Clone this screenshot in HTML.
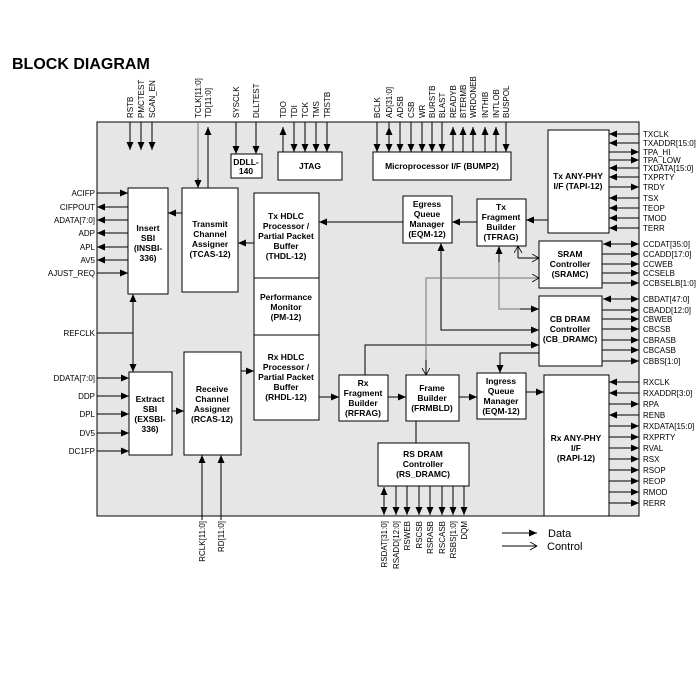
<!DOCTYPE html>
<html><head><meta charset="utf-8"><style>
html,body{margin:0;padding:0;background:#fff}
svg{display:block}
text{font-family:"Liberation Sans",sans-serif}
.l{font-size:8px}
.b{font-size:8.5px;font-weight:bold;text-anchor:middle}
</style></head><body>
<svg width="700" height="700" viewBox="0 0 700 700" xmlns="http://www.w3.org/2000/svg">
<defs>
<marker id="a" markerUnits="userSpaceOnUse" markerWidth="9" markerHeight="8" refX="8" refY="3.5" orient="auto-start-reverse"><path d="M0,0 L8,3.5 L0,7z" fill="#000"/></marker>
<marker id="o" markerUnits="userSpaceOnUse" markerWidth="9" markerHeight="9" refX="7" refY="4" orient="auto"><path d="M0,0 L7,4 L0,8" fill="none" stroke="#000" stroke-width="0.8"/></marker>
</defs>
<text x="12" y="69" style="font-size:16px;font-weight:bold">BLOCK DIAGRAM</text>
<rect x="97" y="122" width="542" height="394" fill="#e6e6e6" stroke="#000" stroke-width="1"/>
<g stroke="#000" stroke-width="1" fill="#fff">
<rect x="128" y="188" width="40" height="106"/>
<rect x="182" y="188" width="56" height="104"/>
<rect x="254" y="193" width="65" height="85"/>
<rect x="254" y="278" width="65" height="57"/>
<rect x="254" y="335" width="65" height="85"/>
<rect x="129" y="372" width="43" height="83"/>
<rect x="184" y="352" width="57" height="103"/>
<rect x="231" y="154" width="31" height="24"/>
<rect x="278" y="152" width="64" height="28"/>
<rect x="373" y="152" width="138" height="28"/>
<rect x="403" y="196" width="49" height="47"/>
<rect x="477" y="199" width="49" height="47"/>
<rect x="548" y="130" width="61" height="103"/>
<rect x="539" y="241" width="63" height="47"/>
<rect x="539" y="296" width="63" height="70"/>
<rect x="544" y="375" width="65" height="141"/>
<rect x="339" y="375" width="49" height="46"/>
<rect x="406" y="375" width="53" height="46"/>
<rect x="477" y="373" width="49" height="46"/>
<rect x="378" y="443" width="91" height="43"/>
</g>
<g>
<text class="b" x="148" y="231">Insert</text><text class="b" x="148" y="241">SBI</text><text class="b" x="148" y="251">(INSBI-</text><text class="b" x="148" y="261">336)</text>
<text class="b" x="210" y="227">Transmit</text><text class="b" x="210" y="237">Channel</text><text class="b" x="210" y="247">Assigner</text><text class="b" x="210" y="257">(TCAS-12)</text>
<text class="b" x="286" y="219">Tx HDLC</text><text class="b" x="286" y="229">Processor /</text><text class="b" x="286" y="239">Partial Packet</text><text class="b" x="286" y="249">Buffer</text><text class="b" x="286" y="259">(THDL-12)</text>
<text class="b" x="286" y="300">Performance</text><text class="b" x="286" y="310">Monitor</text><text class="b" x="286" y="320">(PM-12)</text>
<text class="b" x="286" y="360">Rx HDLC</text><text class="b" x="286" y="370">Processor /</text><text class="b" x="286" y="380">Partial Packet</text><text class="b" x="286" y="390">Buffer</text><text class="b" x="286" y="400">(RHDL-12)</text>
<text class="b" x="150" y="402">Extract</text><text class="b" x="150" y="412">SBI</text><text class="b" x="150" y="422">(EXSBI-</text><text class="b" x="150" y="432">336)</text>
<text class="b" x="212" y="392">Receive</text><text class="b" x="212" y="402">Channel</text><text class="b" x="212" y="412">Assigner</text><text class="b" x="212" y="422">(RCAS-12)</text>
<text class="b" x="246" y="165">DDLL-</text><text class="b" x="246" y="174">140</text>
<text class="b" x="310" y="169">JTAG</text>
<text class="b" x="442" y="169">Microprocessor I/F (BUMP2)</text>
<text class="b" x="427" y="207">Egress</text><text class="b" x="427" y="217">Queue</text><text class="b" x="427" y="227">Manager</text><text class="b" x="427" y="237">(EQM-12)</text>
<text class="b" x="501" y="210">Tx</text><text class="b" x="501" y="220">Fragment</text><text class="b" x="501" y="230">Builder</text><text class="b" x="501" y="240">(TFRAG)</text>
<text class="b" x="578" y="179">Tx ANY-PHY</text><text class="b" x="578" y="189">I/F (TAPI-12)</text>
<text class="b" x="570" y="257">SRAM</text><text class="b" x="570" y="267">Controller</text><text class="b" x="570" y="277">(SRAMC)</text>
<text class="b" x="570" y="322">CB DRAM</text><text class="b" x="570" y="332">Controller</text><text class="b" x="570" y="342">(CB_DRAMC)</text>
<text class="b" x="576" y="441">Rx ANY-PHY</text><text class="b" x="576" y="451">I/F</text><text class="b" x="576" y="461">(RAPI-12)</text>
<text class="b" x="363" y="386">Rx</text><text class="b" x="363" y="396">Fragment</text><text class="b" x="363" y="406">Builder</text><text class="b" x="363" y="416">(RFRAG)</text>
<text class="b" x="432" y="391">Frame</text><text class="b" x="432" y="401">Builder</text><text class="b" x="432" y="411">(FRMBLD)</text>
<text class="b" x="501" y="384">Ingress</text><text class="b" x="501" y="394">Queue</text><text class="b" x="501" y="404">Manager</text><text class="b" x="501" y="414">(EQM-12)</text>
<text class="b" x="423" y="457">RS DRAM</text><text class="b" x="423" y="467">Controller</text><text class="b" x="423" y="477">(RS_DRAMC)</text>
</g>
<g stroke="#000" stroke-width="1" fill="none">
<!-- left pins -->
<line x1="97" y1="193" x2="128" y2="193" marker-end="url(#a)"/>
<line x1="128" y1="207" x2="97" y2="207" marker-end="url(#a)"/>
<line x1="128" y1="220" x2="97" y2="220" marker-end="url(#a)"/>
<line x1="128" y1="233" x2="97" y2="233" marker-end="url(#a)"/>
<line x1="128" y1="247" x2="97" y2="247" marker-end="url(#a)"/>
<line x1="128" y1="260" x2="97" y2="260" marker-end="url(#a)"/>
<line x1="97" y1="273" x2="128" y2="273" marker-end="url(#a)"/>
<line x1="97" y1="333" x2="133" y2="333"/>
<line x1="133" y1="333" x2="133" y2="294" marker-end="url(#a)"/>
<line x1="133" y1="333" x2="133" y2="372" marker-end="url(#a)"/>
<line x1="97" y1="378" x2="129" y2="378" marker-end="url(#a)"/>
<line x1="97" y1="396" x2="129" y2="396" marker-end="url(#a)"/>
<line x1="97" y1="414" x2="129" y2="414" marker-end="url(#a)"/>
<line x1="97" y1="433" x2="129" y2="433" marker-end="url(#a)"/>
<line x1="97" y1="451" x2="129" y2="451" marker-end="url(#a)"/>
<!-- internal -->
<line x1="182" y1="213" x2="168" y2="213" marker-end="url(#a)"/>
<line x1="254" y1="243" x2="238" y2="243" marker-end="url(#a)"/>
<line x1="172" y1="411" x2="184" y2="411" marker-end="url(#a)"/>
<line x1="241" y1="371" x2="254" y2="371" marker-end="url(#a)"/>
<line x1="319" y1="397" x2="339" y2="397" marker-end="url(#a)"/>
<line x1="388" y1="397" x2="406" y2="397" marker-end="url(#a)"/>
<line x1="459" y1="397" x2="477" y2="397" marker-end="url(#a)"/>
<line x1="526" y1="392" x2="544" y2="392" marker-end="url(#a)"/>
<line x1="403" y1="222" x2="319" y2="222" marker-end="url(#a)"/>
<line x1="477" y1="222" x2="452" y2="222" marker-end="url(#a)"/>
<line x1="548" y1="220" x2="526" y2="220" marker-end="url(#a)"/>
<polyline points="441,243 441,330 539,330" />
<line x1="441" y1="260" x2="441" y2="243" marker-end="url(#a)"/>
<line x1="520" y1="330" x2="539" y2="330" marker-end="url(#a)"/>
<polyline points="365,375 365,345 539,345"/>
<line x1="520" y1="345" x2="539" y2="345" marker-end="url(#a)"/>
<polyline points="539,353 500,353 500,373" marker-end="url(#a)"/>
<polyline points="499,246 499,309 539,309" stroke="#777"/>
<line x1="499" y1="262" x2="499" y2="246" marker-end="url(#a)"/>
<line x1="520" y1="309" x2="539" y2="309" marker-end="url(#a)"/>
<polyline points="518,258 518,246" marker-end="url(#o)"/>
<polyline points="518,258 539,258" marker-end="url(#o)"/>
<polyline points="426,368 426,278 539,278" stroke="#777" marker-end="url(#o)"/>
<line x1="426" y1="360" x2="426" y2="375" marker-end="url(#o)"/>
<line x1="416" y1="421" x2="416" y2="443"/>
<!-- top pins -->
<line x1="130" y1="122" x2="130" y2="150" marker-end="url(#a)"/>
<line x1="141" y1="122" x2="141" y2="150" marker-end="url(#a)"/>
<line x1="152" y1="122" x2="152" y2="150" marker-end="url(#a)"/>
<line x1="198" y1="122" x2="198" y2="188" stroke="#777"/>
<line x1="198" y1="178" x2="198" y2="188" marker-end="url(#a)"/>
<line x1="208" y1="188" x2="208" y2="127" marker-end="url(#a)"/>
<line x1="236" y1="122" x2="236" y2="154" marker-end="url(#a)"/>
<line x1="256" y1="122" x2="256" y2="154" marker-end="url(#a)"/>
<line x1="283" y1="152" x2="283" y2="127" marker-end="url(#a)"/>
<line x1="294" y1="122" x2="294" y2="152" marker-end="url(#a)"/>
<line x1="305" y1="122" x2="305" y2="152" marker-end="url(#a)"/>
<line x1="316" y1="122" x2="316" y2="152" marker-end="url(#a)"/>
<line x1="327" y1="122" x2="327" y2="152" marker-end="url(#a)"/>
<line x1="377" y1="122" x2="377" y2="152" marker-end="url(#a)"/>
<line x1="389" y1="127" x2="389" y2="152" marker-start="url(#a)" marker-end="url(#a)"/>
<line x1="389" y1="122" x2="389" y2="127"/>
<line x1="400" y1="122" x2="400" y2="152" marker-end="url(#a)"/>
<line x1="411" y1="122" x2="411" y2="152" marker-end="url(#a)"/>
<line x1="422" y1="122" x2="422" y2="152" marker-end="url(#a)"/>
<line x1="432" y1="122" x2="432" y2="152" marker-end="url(#a)"/>
<line x1="442" y1="122" x2="442" y2="152" marker-end="url(#a)"/>
<line x1="453" y1="152" x2="453" y2="127" marker-end="url(#a)"/>
<line x1="463" y1="152" x2="463" y2="127" marker-end="url(#a)"/>
<line x1="473" y1="152" x2="473" y2="127" marker-end="url(#a)"/>
<line x1="485" y1="152" x2="485" y2="127" marker-end="url(#a)"/>
<line x1="496" y1="152" x2="496" y2="127" marker-end="url(#a)"/>
<line x1="506" y1="122" x2="506" y2="152" marker-end="url(#a)"/>
<!-- right pins Tx -->
<line x1="639" y1="134" x2="609" y2="134" marker-end="url(#a)"/>
<line x1="639" y1="143" x2="609" y2="143" marker-end="url(#a)"/>
<line x1="609" y1="152" x2="639" y2="152" marker-end="url(#a)"/>
<line x1="609" y1="160" x2="639" y2="160" marker-end="url(#a)"/>
<line x1="639" y1="168" x2="609" y2="168" marker-end="url(#a)"/>
<line x1="639" y1="177" x2="609" y2="177" marker-end="url(#a)"/>
<line x1="609" y1="187" x2="639" y2="187" marker-end="url(#a)"/>
<line x1="639" y1="198" x2="609" y2="198" marker-end="url(#a)"/>
<line x1="639" y1="208" x2="609" y2="208" marker-end="url(#a)"/>
<line x1="639" y1="218" x2="609" y2="218" marker-end="url(#a)"/>
<line x1="639" y1="228" x2="609" y2="228" marker-end="url(#a)"/>
<!-- SRAM -->
<line x1="603" y1="244" x2="639" y2="244" marker-start="url(#a)" marker-end="url(#a)"/>
<line x1="602" y1="254" x2="639" y2="254" marker-end="url(#a)"/>
<line x1="602" y1="264" x2="639" y2="264" marker-end="url(#a)"/>
<line x1="602" y1="273" x2="639" y2="273" marker-end="url(#a)"/>
<line x1="602" y1="283" x2="639" y2="283" marker-end="url(#a)"/>
<!-- CB -->
<line x1="603" y1="299" x2="639" y2="299" marker-start="url(#a)" marker-end="url(#a)"/>
<line x1="602" y1="310" x2="639" y2="310" marker-end="url(#a)"/>
<line x1="602" y1="319" x2="639" y2="319" marker-end="url(#a)"/>
<line x1="602" y1="329" x2="639" y2="329" marker-end="url(#a)"/>
<line x1="602" y1="340" x2="639" y2="340" marker-end="url(#a)"/>
<line x1="602" y1="350" x2="639" y2="350" marker-end="url(#a)"/>
<line x1="602" y1="361" x2="639" y2="361" marker-end="url(#a)"/>
<!-- Rx -->
<line x1="639" y1="382" x2="609" y2="382" marker-end="url(#a)"/>
<line x1="639" y1="393" x2="609" y2="393" marker-end="url(#a)"/>
<line x1="609" y1="404" x2="639" y2="404" marker-end="url(#a)"/>
<line x1="639" y1="415" x2="609" y2="415" marker-end="url(#a)"/>
<line x1="609" y1="426" x2="639" y2="426" marker-end="url(#a)"/>
<line x1="609" y1="437" x2="639" y2="437" marker-end="url(#a)"/>
<line x1="609" y1="448" x2="639" y2="448" marker-end="url(#a)"/>
<line x1="609" y1="459" x2="639" y2="459" marker-end="url(#a)"/>
<line x1="609" y1="470" x2="639" y2="470" marker-end="url(#a)"/>
<line x1="609" y1="481" x2="639" y2="481" marker-end="url(#a)"/>
<line x1="609" y1="492" x2="639" y2="492" marker-end="url(#a)"/>
<line x1="609" y1="503" x2="639" y2="503" marker-end="url(#a)"/>
<!-- bottom -->
<line x1="202" y1="516" x2="202" y2="455" marker-end="url(#a)"/>
<line x1="221" y1="516" x2="221" y2="455" marker-end="url(#a)"/>
<line x1="384" y1="487" x2="384" y2="515" marker-start="url(#a)" marker-end="url(#a)"/>
<line x1="396" y1="486" x2="396" y2="515" marker-end="url(#a)"/>
<line x1="407" y1="486" x2="407" y2="515" marker-end="url(#a)"/>
<line x1="419" y1="486" x2="419" y2="515" marker-end="url(#a)"/>
<line x1="430" y1="486" x2="430" y2="515" marker-end="url(#a)"/>
<line x1="442" y1="486" x2="442" y2="515" marker-end="url(#a)"/>
<line x1="453" y1="486" x2="453" y2="515" marker-end="url(#a)"/>
<line x1="464" y1="486" x2="464" y2="515" marker-end="url(#a)"/>
<line x1="202" y1="516" x2="202" y2="520"/><line x1="221" y1="516" x2="221" y2="520"/>
<!-- legend -->
<line x1="502" y1="533" x2="537" y2="533" marker-end="url(#a)"/>
<line x1="502" y1="546" x2="537" y2="546" marker-end="url(#o)"/>
</g>
<text x="548" y="537" style="font-size:11px">Data</text>
<text x="547" y="550" style="font-size:11px">Control</text>
<g class="l" text-anchor="end">
<text x="95" y="196">ACIFP</text><text x="95" y="210">CIFPOUT</text><text x="95" y="223">ADATA[7:0]</text><text x="95" y="236">ADP</text><text x="95" y="250">APL</text><text x="95" y="263">AV5</text><text x="95" y="276">AJUST_REQ</text>
<text x="95" y="336">REFCLK</text>
<text x="95" y="381">DDATA[7:0]</text><text x="95" y="399">DDP</text><text x="95" y="417">DPL</text><text x="95" y="436">DV5</text><text x="95" y="454">DC1FP</text>
</g>
<g class="l">
<text x="643" y="137">TXCLK</text><text x="643" y="146">TXADDR[15:0]</text><text x="643" y="155">TPA_HI</text><text x="643" y="163">TPA_LOW</text><text x="643" y="171">TXDATA[15:0]</text><text x="643" y="180">TXPRTY</text><text x="643" y="190">TRDY</text><text x="643" y="201">TSX</text><text x="643" y="211">TEOP</text><text x="643" y="221">TMOD</text><text x="643" y="231">TERR</text>
<text x="643" y="247">CCDAT[35:0]</text><text x="643" y="257">CCADD[17:0]</text><text x="643" y="267">CCWEB</text><text x="643" y="276">CCSELB</text><text x="643" y="286">CCBSELB[1:0]</text>
<text x="643" y="302">CBDAT[47:0]</text><text x="643" y="313">CBADD[12:0]</text><text x="643" y="322">CBWEB</text><text x="643" y="332">CBCSB</text><text x="643" y="343">CBRASB</text><text x="643" y="353">CBCASB</text><text x="643" y="364">CBBS[1:0]</text>
<text x="643" y="385">RXCLK</text><text x="643" y="396">RXADDR[3:0]</text><text x="643" y="407">RPA</text><text x="643" y="418">RENB</text><text x="643" y="429">RXDATA[15:0]</text><text x="643" y="440">RXPRTY</text><text x="643" y="451">RVAL</text><text x="643" y="462">RSX</text><text x="643" y="473">RSOP</text><text x="643" y="484">REOP</text><text x="643" y="495">RMOD</text><text x="643" y="506">RERR</text>
</g>
<g class="l">
<text transform="translate(133,118) rotate(-90)">RSTB</text>
<text transform="translate(144,118) rotate(-90)">PMCTEST</text>
<text transform="translate(155,118) rotate(-90)">SCAN_EN</text>
<text transform="translate(201,118) rotate(-90)">TCLK[11:0]</text>
<text transform="translate(211,118) rotate(-90)">TD[11:0]</text>
<text transform="translate(239,118) rotate(-90)">SYSCLK</text>
<text transform="translate(259,118) rotate(-90)">DLLTEST</text>
<text transform="translate(286,118) rotate(-90)">TDO</text>
<text transform="translate(297,118) rotate(-90)">TDI</text>
<text transform="translate(308,118) rotate(-90)">TCK</text>
<text transform="translate(319,118) rotate(-90)">TMS</text>
<text transform="translate(330,118) rotate(-90)">TRSTB</text>
<text transform="translate(380,118) rotate(-90)">BCLK</text>
<text transform="translate(392,118) rotate(-90)">AD[31:0]</text>
<text transform="translate(403,118) rotate(-90)">ADSB</text>
<text transform="translate(414,118) rotate(-90)">CSB</text>
<text transform="translate(425,118) rotate(-90)">WR</text>
<text transform="translate(435,118) rotate(-90)">BURSTB</text>
<text transform="translate(445,118) rotate(-90)">BLAST</text>
<text transform="translate(456,118) rotate(-90)">READYB</text>
<text transform="translate(466,118) rotate(-90)">BTERMB</text>
<text transform="translate(476,118) rotate(-90)">WRDONEB</text>
<text transform="translate(488,118) rotate(-90)">INTHIB</text>
<text transform="translate(499,118) rotate(-90)">INTLOB</text>
<text transform="translate(509,118) rotate(-90)">BUSPOL</text>
</g>
<g class="l" text-anchor="end">
<text transform="translate(205,521) rotate(-90)">RCLK[11:0]</text>
<text transform="translate(224,521) rotate(-90)">RD[11:0]</text>
<text transform="translate(387,521) rotate(-90)">RSDAT[31:0]</text>
<text transform="translate(399,521) rotate(-90)">RSADD[12:0]</text>
<text transform="translate(410,521) rotate(-90)">RSWEB</text>
<text transform="translate(422,521) rotate(-90)">RSCSB</text>
<text transform="translate(433,521) rotate(-90)">RSRASB</text>
<text transform="translate(445,521) rotate(-90)">RSCASB</text>
<text transform="translate(456,521) rotate(-90)">RSBS[1:0]</text>
<text transform="translate(467,521) rotate(-90)">DQM</text>
</g>
</svg>
</body></html>
